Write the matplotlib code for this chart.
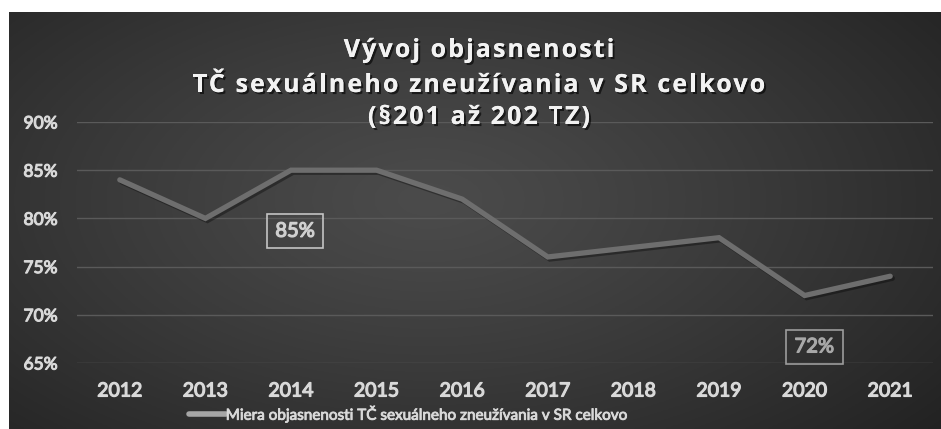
import numpy as np
import matplotlib
matplotlib.use("Agg")
import matplotlib.pyplot as plt
import matplotlib.patheffects as pe
from matplotlib.lines import Line2D

years = ["2012", "2013", "2014", "2015", "2016", "2017", "2018", "2019", "2020", "2021"]
values = [84, 80, 85, 85, 82, 76, 77, 78, 72, 74]
yticks = [65, 70, 75, 80, 85, 90]
title_lines = ["Vývoj objasnenosti", "TČ sexuálneho zneužívania v SR celkovo", "(§201 až 202 TZ)"]
series_name = "Miera objasnenosti TČ sexuálneho zneužívania v SR celkovo"
labeled = {2: "85%", 8: "72%"}

W, H = 941, 429
fig = plt.figure(figsize=(W / 100, H / 100), dpi=100, facecolor="white")

# background panel with radial gradient
bg = fig.add_axes([9 / W, 0, (W - 9) / W, (H - 12) / H], zorder=-5)
gx, gy = np.meshgrid(np.linspace(0, 1, 400), np.linspace(0, 1, 200))
cx, cy = 0.45, 0.45
r = np.sqrt(((gx - cx) / 0.75) ** 2 + ((gy - cy) / 0.9) ** 2)
r = np.clip(r, 0, 1)
c0, c1 = 0x4b, 0x20
img = (c0 + (c1 - c0) * r ** 1.2) / 255.0
bg.imshow(np.dstack([img, img, img]), aspect="auto", extent=[0, 1, 0, 1], origin="upper")
bg.set_axis_off()

font = "Lato"

def embolden(color, w=0.7):
    return [pe.withStroke(linewidth=w, foreground=color)]

ax = fig.add_axes([77 / W, 1 - 363 / H, (933 - 77) / W, (363 - 122) / H])
ax.set_facecolor("none")
x = np.arange(len(years))
ax.plot(x, values, color="#6e6e6e", lw=3.8, solid_joinstyle="miter", solid_capstyle="round",
        path_effects=[pe.SimpleLineShadow(offset=(1.5, -1.5), shadow_color="black", alpha=0.35),
                      pe.Normal()], zorder=3)
ax.set_xlim(-0.5, len(years) - 0.5)
ax.set_ylim(65, 90)
ax.set_yticks(yticks)
ax.set_yticklabels([f"{v}%" for v in yticks])
ax.set_xticks(x)
ax.set_xticklabels(years)
ax.grid(axis="y", color="#5a5a5a", lw=1.0)
ax.set_axisbelow(True)
for s in ax.spines.values():
    s.set_visible(False)
ax.tick_params(axis="both", length=0, colors="#d9d9d9")
ax.tick_params(axis="x", pad=14)
ax.tick_params(axis="y", pad=14)
for t in ax.get_xticklabels():
    t.set_fontfamily(font); t.set_fontsize(14)
    t.set_path_effects(embolden("#d9d9d9", 0.9))
for t in ax.get_yticklabels():
    t.set_fontfamily(font); t.set_fontsize(12.5)
    t.set_path_effects(embolden("#d9d9d9", 0.8))

offsets = {2: ((3, -44), "#d0d0d0", "#c4c4c4"), 8: ((7, -37), "#a8a8a8", "#9c9c9c")}
for i, txt in labeled.items():
    off, tc, ec = offsets[i]
    a = ax.annotate(txt, xy=(i, values[i]), xytext=off, textcoords="offset points",
                    ha="center", va="center", fontsize=14.5, family=font,
                    color=tc, bbox=dict(boxstyle="square,pad=0.42", fc="none", ec=ec, lw=1.2))
    a.set_path_effects(embolden(tc, 0.9))

# title with letter spacing
renderer = fig.canvas.get_renderer()
title_font = dict(fontsize=18, fontweight="bold", family="Open Sans", color="#f2f2f2")
shadow = [pe.withSimplePatchShadow(offset=(1.5, -1.5), shadow_rgbFace="black", alpha=0.6), pe.Normal()]
track = 2.1  # px between characters
baselines = [57, 92, 124]
cxpix = 479

def text_w(s):
    t = fig.text(0, 0, s, **title_font)
    w = t.get_window_extent(renderer).width
    t.remove()
    return w

for line, base in zip(title_lines, baselines):
    total = text_w(line) + track * (len(line) - 1)
    x0 = cxpix - total / 2
    for k, ch in enumerate(line):
        if ch == " ":
            continue
        left = text_w(line[:k + 1]) - text_w(ch)
        fig.text((x0 + left + track * k) / W, 1 - base / H, ch, ha="left", va="baseline",
                 path_effects=shadow, **title_font)

handle = Line2D([], [], color="#a6a6a6", lw=4, solid_capstyle="round")
leg = fig.legend([handle], [series_name], loc="center", bbox_to_anchor=(408 / W, 1 - 414 / H),
                 frameon=False, handlelength=2.4, handletextpad=0.0,
                 prop=dict(family=font, size=11))
for t in leg.get_texts():
    t.set_color("#d9d9d9")
    t.set_path_effects(embolden("#d9d9d9", 0.6))

fig.savefig("out.png", dpi=100, facecolor="white")
